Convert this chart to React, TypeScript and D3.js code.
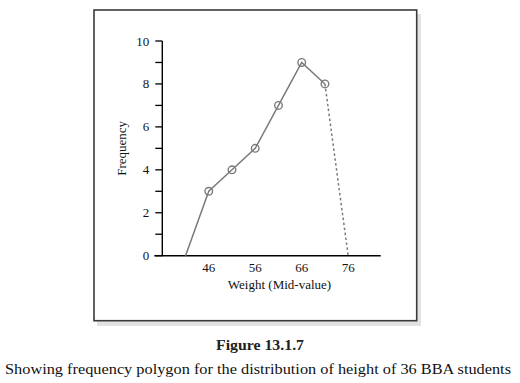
import React from "react";
import * as d3 from "d3";

const midValues = [41, 46, 51, 56, 61, 66, 71, 76];
const frequencies = [0, 3, 4, 5, 7, 9, 8, 0];
const xTickValues = [46, 56, 66, 76];
const yTickValues = [0, 1, 2, 3, 4, 5, 6, 7, 8, 9, 10];
const yLabelValues = [0, 2, 4, 6, 8, 10];
const xTitle = "Weight (Mid-value)";
const yTitle = "Frequency";
const captionTitle = "Figure 13.1.7";
const captionText = "Showing frequency polygon for the distribution of height of 36 BBA students";

export default function App() {
  const W = 520, H = 383;
  const x = d3.scaleLinear().domain([36, 83]).range([162.3, 380.7]);
  const y = d3.scaleLinear().domain([0, 10]).range([255.7, 41]);
  const pts = midValues.map((m, i) => [x(m), y(frequencies[i])] as [number, number]);
  const line = d3.line();
  const solid = line(pts.slice(0, pts.length - 1));
  const dashed = line(pts.slice(pts.length - 2));
  const font = "'Liberation Serif', 'Times New Roman', serif";
  const gray = "#7a7a7a";
  return (
    <svg width={W} height={H} style={{ position: "absolute", left: 0, top: 0, background: "#fff" }}>
      {/* shadow */}
      <rect x={97} y={14} width={324} height={312} fill="#e2e2e2" />
      <rect x={94} y={10} width={322.7} height={310.7} fill="#fff" stroke="#3a3a3a" strokeWidth={1.6} />
      {/* y axis */}
      <line x1={x(36)} x2={x(36)} y1={y(10)} y2={y(0)} stroke="#000" strokeWidth={1.4} />
      {yTickValues.map((t) => (
        <line key={t} x1={x(36) - 7} x2={x(36)} y1={y(t)} y2={y(t)} stroke="#000" strokeWidth={1.3} />
      ))}
      {yLabelValues.map((t) => (
        <text key={t} x={x(36) - 13} y={y(t)} dy="0.35em" textAnchor="end" fontFamily={font} fontSize={13} fill="#111">
          {t}
        </text>
      ))}
      {/* x axis */}
      <line x1={x(36) - 8} x2={x(83)} y1={y(0)} y2={y(0)} stroke="#000" strokeWidth={1.4} />
      {xTickValues.map((t) => (
        <text key={t} x={x(t)} y={y(0) + 16} textAnchor="middle" fontFamily={font} fontSize={13} fill="#111">
          {t}
        </text>
      ))}
      <text x={(x(36) + x(83)) / 2 + 8} y={y(0) + 33} textAnchor="middle" fontFamily={font} fontSize={13} fill="#111">
        {xTitle}
      </text>
      <text transform={`translate(126,${(y(0) + y(10)) / 2}) rotate(-90)`} textAnchor="middle" fontFamily={font} fontSize={13} fill="#111">
        {yTitle}
      </text>
      {/* polygon */}
      <path d={solid ?? ""} fill="none" stroke={gray} strokeWidth={1.5} />
      <path d={dashed ?? ""} fill="none" stroke={gray} strokeWidth={1.5} strokeDasharray="2.5,2.5" />
      {pts.slice(1, pts.length - 1).map((p, i) => (
        <circle key={i} cx={p[0]} cy={p[1]} r={3.8} fill="none" stroke={gray} strokeWidth={1.4} />
      ))}
      {/* caption */}
      <text x={260} y={350} textAnchor="middle" fontFamily={font} fontSize={14.5} fontWeight="bold" fill="#222" textLength={88} lengthAdjust="spacingAndGlyphs">
        {captionTitle}
      </text>
      <text x={258} y={374} textAnchor="middle" fontFamily={font} fontSize={15} fill="#111" textLength={506} lengthAdjust="spacingAndGlyphs">
        {captionText}
      </text>
    </svg>
  );
}
